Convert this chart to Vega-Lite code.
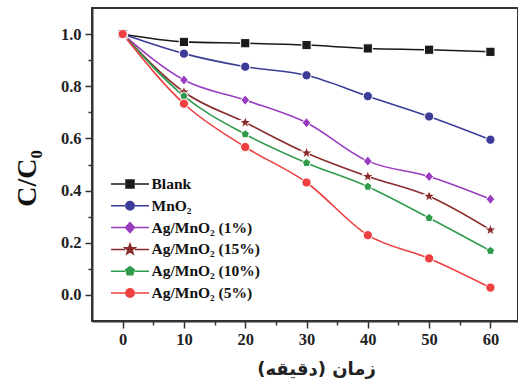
{
  "$schema": "https://vega.github.io/schema/vega-lite/v6.json",
  "width": 426,
  "height": 313,
  "autosize": {"type": "none"},
  "padding": {"left": 92, "top": 8, "right": 0, "bottom": 61},
  "background": "white",
  "config": {
    "view": {"stroke": "#333333", "strokeWidth": 2},
    "axis": {"labelFont": "Liberation Serif", "labelFontWeight": "bold", "labelFontSize": 16.5, "labelColor": "#222222", "domainColor": "#333333", "domainWidth": 2, "tickColor": "#333333", "tickWidth": 1.5, "grid": false}
  },
  "data": {"values": [
    {"t": 0, "v": 1.0, "s": "Blank"}, {"t": 10, "v": 0.97, "s": "Blank"}, {"t": 20, "v": 0.965, "s": "Blank"}, {"t": 30, "v": 0.958, "s": "Blank"}, {"t": 40, "v": 0.945, "s": "Blank"}, {"t": 50, "v": 0.94, "s": "Blank"}, {"t": 60, "v": 0.932, "s": "Blank"},
    {"t": 0, "v": 1.0, "s": "MnO₂"}, {"t": 10, "v": 0.925, "s": "MnO₂"}, {"t": 20, "v": 0.875, "s": "MnO₂"}, {"t": 30, "v": 0.842, "s": "MnO₂"}, {"t": 40, "v": 0.762, "s": "MnO₂"}, {"t": 50, "v": 0.684, "s": "MnO₂"}, {"t": 60, "v": 0.595, "s": "MnO₂"},
    {"t": 0, "v": 1.0, "s": "Ag/MnO₂ (1%)"}, {"t": 10, "v": 0.824, "s": "Ag/MnO₂ (1%)"}, {"t": 20, "v": 0.747, "s": "Ag/MnO₂ (1%)"}, {"t": 30, "v": 0.66, "s": "Ag/MnO₂ (1%)"}, {"t": 40, "v": 0.513, "s": "Ag/MnO₂ (1%)"}, {"t": 50, "v": 0.454, "s": "Ag/MnO₂ (1%)"}, {"t": 60, "v": 0.367, "s": "Ag/MnO₂ (1%)"},
    {"t": 0, "v": 1.0, "s": "Ag/MnO₂ (15%)"}, {"t": 10, "v": 0.778, "s": "Ag/MnO₂ (15%)"}, {"t": 20, "v": 0.661, "s": "Ag/MnO₂ (15%)"}, {"t": 30, "v": 0.544, "s": "Ag/MnO₂ (15%)"}, {"t": 40, "v": 0.454, "s": "Ag/MnO₂ (15%)"}, {"t": 50, "v": 0.378, "s": "Ag/MnO₂ (15%)"}, {"t": 60, "v": 0.249, "s": "Ag/MnO₂ (15%)"},
    {"t": 0, "v": 1.0, "s": "Ag/MnO₂ (10%)"}, {"t": 10, "v": 0.762, "s": "Ag/MnO₂ (10%)"}, {"t": 20, "v": 0.616, "s": "Ag/MnO₂ (10%)"}, {"t": 30, "v": 0.506, "s": "Ag/MnO₂ (10%)"}, {"t": 40, "v": 0.415, "s": "Ag/MnO₂ (10%)"}, {"t": 50, "v": 0.295, "s": "Ag/MnO₂ (10%)"}, {"t": 60, "v": 0.169, "s": "Ag/MnO₂ (10%)"},
    {"t": 0, "v": 1.0, "s": "Ag/MnO₂ (5%)"}, {"t": 10, "v": 0.733, "s": "Ag/MnO₂ (5%)"}, {"t": 20, "v": 0.567, "s": "Ag/MnO₂ (5%)"}, {"t": 30, "v": 0.431, "s": "Ag/MnO₂ (5%)"}, {"t": 40, "v": 0.229, "s": "Ag/MnO₂ (5%)"}, {"t": 50, "v": 0.14, "s": "Ag/MnO₂ (5%)"}, {"t": 60, "v": 0.028, "s": "Ag/MnO₂ (5%)"}
  ]},
  "encoding": {
    "x": {"field": "t", "type": "quantitative", "scale": {"domain": [-5, 64.5], "nice": false, "zero": false},
      "axis": {"values": [0, 5, 10, 15, 20, 25, 30, 35, 40, 45, 50, 55, 60], "labelExpr": "datum.value % 10 === 0 ? datum.label : ''", "tickSize": {"expr": "datum.value % 10 === 0 ? 7 : 4"}, "labelPadding": 3,
        "title": "زمان (دقیقه)", "titleFont": "DejaVu Sans", "titleFontSize": 18, "titleFontWeight": "bold", "titleColor": "#222222", "titlePadding": 13, "titleX": 224}},
    "y": {"field": "v", "type": "quantitative", "scale": {"domain": [-0.1, 1.1], "nice": false, "zero": false},
      "axis": {"values": [0, 0.1, 0.2, 0.3, 0.4, 0.5, 0.6, 0.7, 0.8, 0.9, 1.0], "format": ".1f", "labelExpr": "round(datum.value*10) % 2 === 0 ? datum.label : ''", "tickSize": {"expr": "round(datum.value*10) % 2 === 0 ? 7 : 4"}, "labelPadding": 4,
        "title": "C/C₀", "titleFont": "Liberation Serif", "titleFontSize": 28, "titleFontWeight": "bold", "titleColor": "#111111", "titlePadding": 19, "titleY": 170}},
    "color": {"field": "s", "type": "nominal",
      "scale": {"domain": ["Blank", "MnO₂", "Ag/MnO₂ (1%)", "Ag/MnO₂ (15%)", "Ag/MnO₂ (10%)", "Ag/MnO₂ (5%)"], "range": ["#1a1a1a", "#3b3b98", "#9a3cc0", "#8a2a2a", "#2f9a4c", "#ee4040"]},
      "legend": {"orient": "none", "legendX": 27, "legendY": 165, "padding": 0, "title": null, "symbolSize": 400, "labelOffset": 10.5, "rowPadding": 1.8,
        "labelFont": "Liberation Serif", "labelFontWeight": "bold", "labelFontSize": 15.5, "labelColor": "#111111",
        "encode": {"symbols": {"update": {
          "fill": {"scale": "color", "field": "value"},
          "stroke": {"scale": "color", "field": "value"},
          "strokeWidth": {"value": 1.5},
          "shape": {"signal": "datum.value === 'Blank' ? 'M-1.9,0H-0.5M0.5,0H1.9M-0.4,-0.4H0.4V0.4H-0.4Z' : datum.value === 'MnO₂' || datum.value === 'Ag/MnO₂ (5%)' ? 'M-1.9,0H-0.5M0.5,0H1.9M-0.42,0A0.42,0.42 0 1,0 0.42,0A0.42,0.42 0 1,0 -0.42,0Z' : datum.value === 'Ag/MnO₂ (1%)' ? 'M-1.9,0H-0.5M0.5,0H1.9M0,-0.5L0.45,0L0,0.5L-0.45,0Z' : datum.value === 'Ag/MnO₂ (15%)' ? 'M-1.9,0H-0.5M0.5,0H1.9M0,-0.55L0.13,-0.18L0.52,-0.17L0.21,0.07L0.32,0.45L0,0.22L-0.32,0.45L-0.21,0.07L-0.52,-0.17L-0.13,-0.18Z' : 'M-1.9,0H-0.5M0.5,0H1.9M0,-0.45L0.428,-0.139L0.2645,0.364L-0.2645,0.364L-0.428,-0.139Z'"}
        }}}}
    }
  },
  "layer": [
    {"mark": {"type": "line", "interpolate": "monotone", "strokeWidth": 1.6}},
    {"mark": {"type": "point", "filled": true, "opacity": 1, "stroke": "white", "strokeWidth": 1},
      "encoding": {
        "shape": {"field": "s", "type": "nominal", "legend": null,
          "scale": {"domain": ["Ag/MnO₂ (5%)", "Ag/MnO₂ (10%)", "Ag/MnO₂ (15%)", "Ag/MnO₂ (1%)", "MnO₂", "Blank"],
            "range": ["circle", "M0,-0.95L0.9,-0.29L0.56,0.77L-0.56,0.77L-0.9,-0.29Z", "M0,-1.35L0.32,-0.44L1.28,-0.42L0.51,0.17L0.79,1.09L0,0.54L-0.79,1.09L-0.51,0.17L-1.28,-0.42L-0.32,-0.44Z", "M0,-1.1L0.95,0L0,1.1L-0.95,0Z", "circle", "square"]}},
        "size": {"value": 85}
      }}
  ]
}
